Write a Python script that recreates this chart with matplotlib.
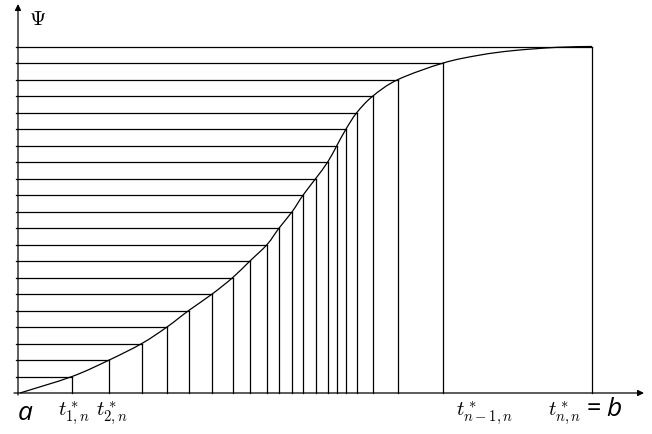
import matplotlib.pyplot as plt
from matplotlib.path import Path
from matplotlib.patches import PathPatch

plt.rcParams['mathtext.fontset'] = 'cm'

# psi levels 1..21 and the nodes t*_{k,n} where the curve reaches them (a=0, b=1)
levels = list(range(1, 22))
nodes = [0.091, 0.156, 0.213, 0.257, 0.295, 0.336, 0.372, 0.402, 0.432, 0.453,
         0.476, 0.495, 0.517, 0.538, 0.554, 0.570, 0.589, 0.617, 0.661, 0.740, 1.0]
# extra points of the curve between the last two nodes (the flat tail)
tail_t = [0.804, 0.862, 0.939]
tail_psi = [20.48, 20.75, 20.95]

PX_X = 572.0   # pixels per unit of t
PX_Y = 16.5    # pixels per psi level


def px(x, y):
    # figure pixel -> data coordinate
    return (x - 20) / PX_X, (393 - y) / PX_Y


def smooth_path(xs, ys):
    # Catmull-Rom through the points, drawn as cubic Bezier segments
    verts = [(xs[0], ys[0])]
    codes = [Path.MOVETO]
    n = len(xs)
    for i in range(n - 1):
        x0, y0 = (xs[i - 1], ys[i - 1]) if i > 0 else (xs[i], ys[i])
        x3, y3 = (xs[i + 2], ys[i + 2]) if i + 2 < n else (xs[i + 1], ys[i + 1])
        x1, y1 = xs[i], ys[i]
        x2, y2 = xs[i + 1], ys[i + 1]
        c1 = (x1 + (x2 - x0) / 6, y1 + (y2 - y0) / 6)
        c2 = (x2 - (x3 - x1) / 6, y2 - (y3 - y1) / 6)
        verts += [c1, c2, (x2, y2)]
        codes += [Path.CURVE4] * 3
    return Path(verts, codes)


fig = plt.figure(figsize=(6.52, 4.34), dpi=100)
ax = fig.add_axes([0, 0, 1, 1])
ax.set_xlim(-20 / PX_X, 632 / PX_X)
ax.set_ylim(-(434 - 393) / PX_Y, 393 / PX_Y)
ax.axis('off')

lw = 0.9
arrow = dict(arrowstyle='-|>', mutation_scale=9, lw=lw, color='k', shrinkA=0, shrinkB=0)

# axes with arrows
ax.annotate('', xy=px(644, 393), xytext=px(14, 393), arrowprops=arrow)
ax.annotate('', xy=px(18, 4), xytext=px(18, 395), arrowprops=arrow)

y_axis_x = px(16, 0)[0]
for k, t in zip(levels, nodes):
    ax.plot([y_axis_x, t], [k, k], color='k', lw=lw)
    ax.plot([t, t], [k, 0], color='k', lw=lw)

curve_t = [0.0] + nodes[:-1] + tail_t + [nodes[-1]]
curve_psi = [0] + levels[:-1] + tail_psi + [levels[-1]]
ax.add_patch(PathPatch(smooth_path(curve_t, curve_psi), fill=False, color='k', lw=lw))

# labels
ax.text(*px(29, 19), r'$\Psi$', fontsize=15, ha='left', va='center')
ax.text(*px(25, 413), 'a', fontsize=19, ha='center', va='center',
        family='Open Sans', style='italic')
ax.text(*px(74, 413), r'$t^*_{1,n}$', fontsize=15, ha='center', va='center')
ax.text(*px(112, 413), r'$t^*_{2,n}$', fontsize=15, ha='center', va='center')
ax.text(*px(485, 413), r'$t^*_{n-1,n}$', fontsize=15, ha='center', va='center')
ax.text(*px(548, 413), r'$t^*_{n,n}$', fontsize=15, ha='left', va='center')
ax.text(*px(587, 410), '=', fontsize=18, ha='left', va='center', family='Open Sans')
ax.text(*px(606, 409), 'b', fontsize=19, ha='left', va='center',
        family='Open Sans', style='italic')

fig.savefig('out.png', dpi=100)
